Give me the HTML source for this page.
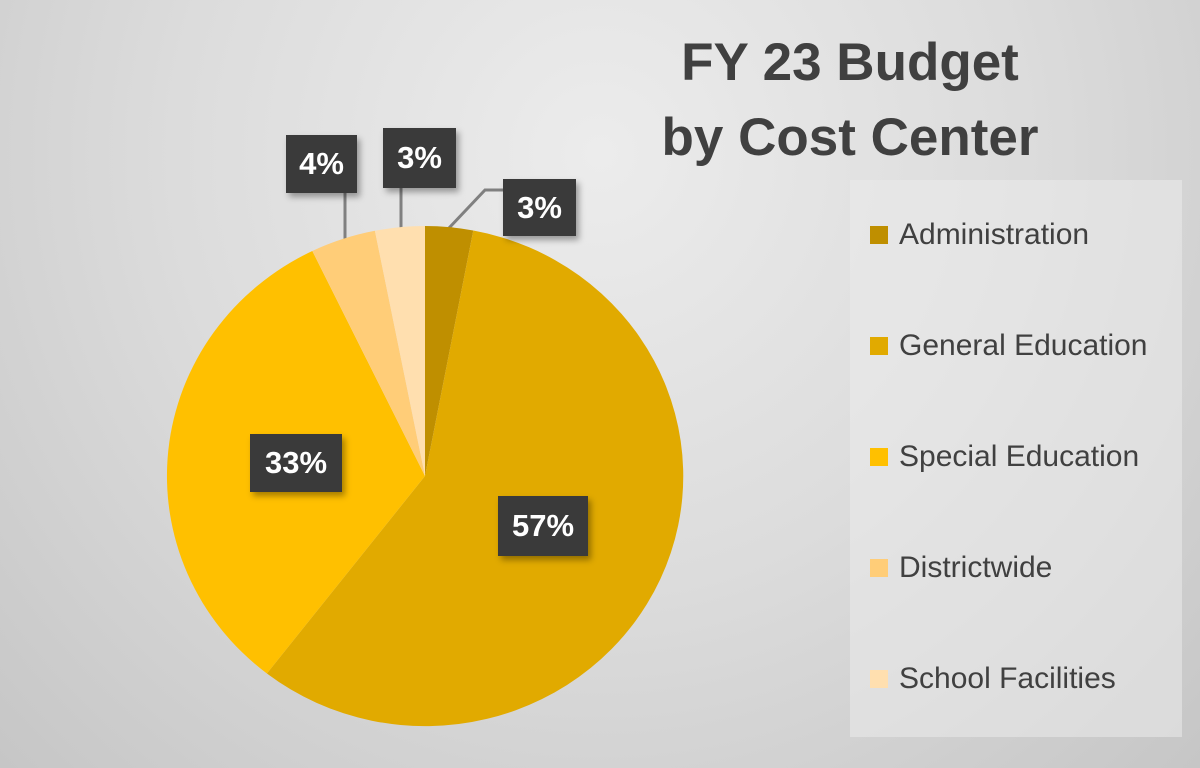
<!DOCTYPE html>
<html><head><style>
html,body{margin:0;padding:0}
body{width:1200px;height:768px;overflow:hidden;background:radial-gradient(ellipse at 50% 20%,#ececec 0%,#dcdcdc 50%,#c6c6c6 100%);font-family:"Liberation Sans",sans-serif;position:relative}
.t{position:absolute;left:600px;width:500px;text-align:center;font-weight:bold;font-size:53px;color:#404040;line-height:56px}
.lab{position:absolute;background:#3a3a3a;color:#fff;font-weight:bold;font-size:31px;display:flex;align-items:center;justify-content:center;box-shadow:3px 4px 6px rgba(0,0,0,.35)}
.leg{position:absolute;left:850px;top:180px;width:332px;height:557px;background:rgba(235,235,235,.55)}
.li{position:absolute;left:20px;font-size:30px;color:#404040;display:flex;align-items:center;white-space:nowrap}
.li i{display:inline-block;width:18px;height:18px;margin-right:11px}
</style></head><body>
<div class="t" style="top:35px">FY 23 Budget</div>
<div class="t" style="top:110px">by Cost Center</div>
<svg width="1200" height="768" style="position:absolute;left:0;top:0">
<g stroke="#808080" stroke-width="3" fill="none">
<line x1="345" y1="193" x2="345" y2="240"/>
<line x1="401" y1="188" x2="401" y2="228"/>
<polyline points="449,228 485,190 503,190"/>
</g>
<g transform="translate(425,476)">
<path d="M0,0 L0,-250 A258,250 0 0 1 48.3,-245.5 Z" fill="#BF8F00"/>
<path d="M0,0 L48.3,-245.5 A258,250 0 1 1 -158.1,197.5 Z" fill="#E1AA00"/>
<path d="M0,0 L-158.1,197.5 A258,250 0 0 1 -112.7,-225 Z" fill="#FFC000"/>
<path d="M0,0 L-112.7,-225 A258,250 0 0 1 -50.1,-245.2 Z" fill="#FFCD78"/>
<path d="M0,0 L-50.1,-245.2 A258,250 0 0 1 0,-250 Z" fill="#FFDFAF"/>
</g>
</svg>
<div class="lab" style="left:286px;top:135px;width:71px;height:58px">4%</div>
<div class="lab" style="left:383px;top:128px;width:73px;height:60px">3%</div>
<div class="lab" style="left:503px;top:179px;width:73px;height:57px">3%</div>
<div class="lab" style="left:250px;top:434px;width:92px;height:58px">33%</div>
<div class="lab" style="left:498px;top:496px;width:90px;height:60px">57%</div>
<div class="leg">
<div class="li" style="top:38px"><i style="background:#BF8F00"></i>Administration</div>
<div class="li" style="top:149px"><i style="background:#E1AA00"></i>General Education</div>
<div class="li" style="top:260px"><i style="background:#FFC000"></i>Special Education</div>
<div class="li" style="top:371px"><i style="background:#FFCD78"></i>Districtwide</div>
<div class="li" style="top:482px"><i style="background:#FFDFAF"></i>School Facilities</div>
</div>
</body></html>
